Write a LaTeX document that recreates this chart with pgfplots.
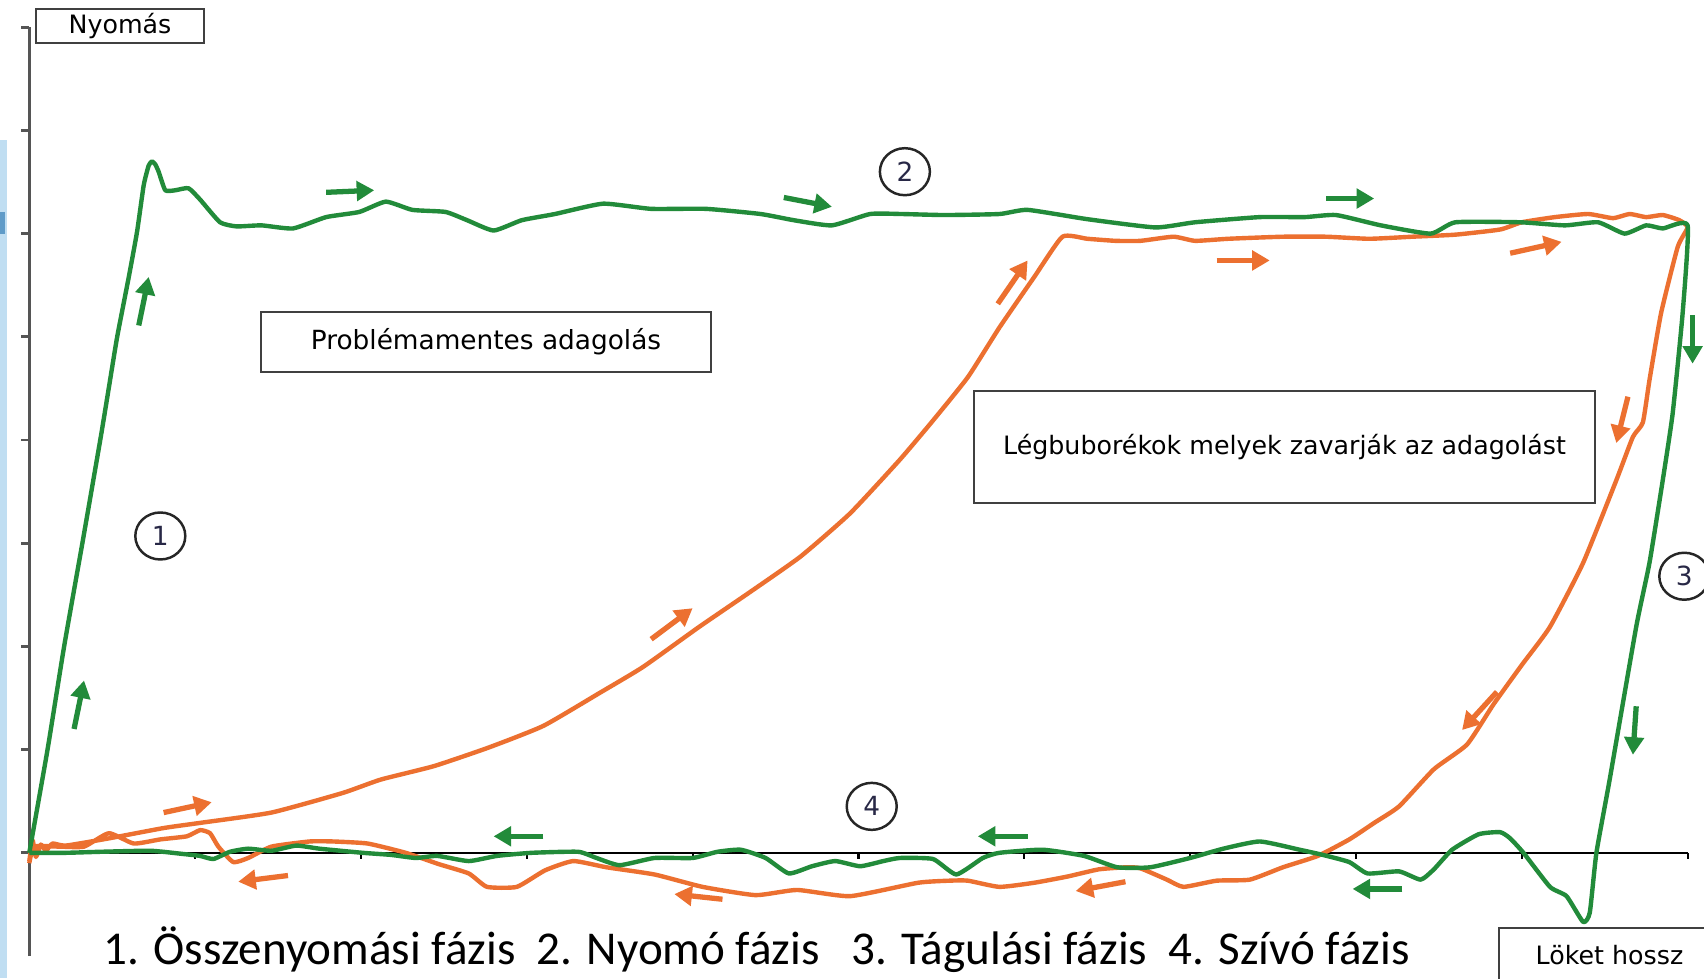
\documentclass[border=0pt]{standalone}
\usepackage{fontspec}
\setmainfont{Carlito}
\newfontfamily\boxfont{DejaVu Sans}
\usepackage{pgfplots}
\pgfplotsset{compat=1.18}
\usetikzlibrary{arrows.meta,shapes.geometric}
\definecolor{gr}{RGB}{34,139,58}
\definecolor{orn}{RGB}{236,112,48}
\definecolor{axg}{RGB}{85,85,85}
\definecolor{bxg}{RGB}{64,64,64}
\definecolor{lb}{RGB}{192,222,242}
\definecolor{db}{RGB}{95,155,200}
\definecolor{numc}{RGB}{40,40,70}
\begin{document}
\begin{tikzpicture}[arr/.style={line width=1.5pt,-{Triangle[length=5pt,width=5.5pt]}}]
\useasboundingbox (0,0) rectangle (17.04,9.78);
\fill[white] (0,0) rectangle (17.04,9.78);
\fill[lb] (0,0) rectangle (0.07,8.38);
\fill[db] (0,7.44) rectangle (0.05,7.66);
\begin{axis}[at={(0.293cm,0.22cm)}, anchor=south west, scale only axis,
  width=16.583cm, height=9.288cm, xmin=0, xmax=10, ymin=-1, ymax=8,
  hide axis, clip=false]
\draw[axg, line width=0.75pt] (axis cs:0,-1) -- (axis cs:0,8);
\draw[black, line width=0.6pt] (axis cs:-0.04,0) -- (axis cs:10,0);
\pgfplotsinvokeforeach{0,...,8}{\draw[axg,line width=0.75pt] (axis cs:0,#1) -- ([xshift=-0.08cm]axis cs:0,#1);}
\pgfplotsinvokeforeach{1,...,10}{\draw[black,line width=0.6pt] (axis cs:#1,0) -- ([yshift=-0.06cm]axis cs:#1,0);}
% air bubbles (orange)
\addplot[orn, line width=1.25pt, line join=round, smooth, tension=0.3] coordinates {
(0.00,-0.08) (0.02,0.12) (0.04,-0.04) (0.07,0.08) (0.10,0.02) (0.14,0.09) (0.22,0.07) (0.48,0.14) (0.81,0.24)
(1.03,0.29) (1.46,0.39) (1.89,0.58) (2.12,0.71) (2.44,0.84) (2.77,1.02) (3.10,1.23) (3.44,1.55)
(3.70,1.80) (4.04,2.19) (4.34,2.52) (4.65,2.87) (4.95,3.29) (5.25,3.81) (5.45,4.19) (5.66,4.61)
(5.85,5.09) (6.06,5.58) (6.23,5.97)
(6.38,5.95) (6.55,5.93) (6.70,5.93) (6.90,5.97) (7.03,5.93) (7.23,5.95) (7.56,5.97) (7.82,5.97)
(8.08,5.95) (8.34,5.97) (8.60,5.99) (8.87,6.04) (9.00,6.11) (9.20,6.16) (9.40,6.19) (9.55,6.15)
(9.65,6.19) (9.75,6.16) (9.85,6.18) (9.95,6.13) (10.00,6.06)
(9.94,5.87) (9.84,5.23) (9.77,4.58) (9.73,4.17) (9.67,4.03) (9.57,3.61) (9.37,2.81) (9.17,2.19)
(9.00,1.82) (8.83,1.44) (8.67,1.05) (8.47,0.81) (8.26,0.45) (8.11,0.29) (7.96,0.13) (7.77,-0.03)
(7.56,-0.14) (7.36,-0.26) (7.16,-0.27) (6.96,-0.33) (6.86,-0.26) (6.70,-0.15) (6.62,-0.14)
(6.45,-0.16) (6.26,-0.23) (6.06,-0.29) (5.85,-0.33) (5.66,-0.27) (5.55,-0.27) (5.36,-0.29)
(4.95,-0.42) (4.63,-0.36) (4.38,-0.41) (4.06,-0.33) (3.77,-0.21) (3.48,-0.14) (3.28,-0.08)
(3.11,-0.17) (2.94,-0.33) (2.76,-0.33) (2.65,-0.20) (2.47,-0.11) (2.27,0.00) (2.04,0.09)
(1.83,0.11) (1.69,0.11) (1.46,0.06) (1.32,-0.05) (1.23,-0.09) (1.14,0.06) (1.09,0.19) (1.03,0.22)
(0.95,0.16) (0.79,0.13) (0.63,0.09) (0.48,0.19) (0.33,0.06) (0.18,0.06) (0.03,0.06) (0.00,-0.10)
};
% problem-free (green)
\addplot[gr, line width=1.25pt, line join=round, smooth, tension=0.3] coordinates {
(0.00,0.00) (0.11,1.00) (0.21,2.00) (0.32,3.00) (0.43,4.02) (0.48,4.51) (0.53,5.00) (0.60,5.58)
(0.65,6.02) (0.69,6.47) (0.72,6.66) (0.74,6.70) (0.76,6.67) (0.78,6.60) (0.82,6.42) (0.88,6.42)
(0.96,6.44) (1.03,6.33) (1.15,6.11) (1.25,6.07) (1.40,6.08) (1.59,6.05) (1.79,6.16) (1.99,6.21)
(2.15,6.31) (2.31,6.23) (2.51,6.21) (2.64,6.13) (2.80,6.03) (2.97,6.13) (3.17,6.19) (3.46,6.29)
(3.75,6.24) (4.08,6.24) (4.41,6.19) (4.61,6.13) (4.84,6.08) (5.07,6.19) (5.26,6.19) (5.52,6.18)
(5.85,6.19) (6.02,6.23) (6.38,6.14) (6.79,6.06) (7.03,6.11) (7.42,6.16) (7.69,6.16) (7.88,6.18)
(8.15,6.08) (8.45,6.00) (8.60,6.11) (8.99,6.11) (9.26,6.08) (9.46,6.11) (9.62,6.00) (9.75,6.08)
(9.85,6.05) (10.00,6.08)
(9.97,5.23) (9.91,4.26) (9.85,3.61) (9.77,2.81) (9.69,2.19) (9.53,0.71) (9.45,0.00) (9.41,-0.58)
(9.37,-0.67) (9.27,-0.42) (9.17,-0.33) (9.01,0.00) (8.93,0.14) (8.87,0.20) (8.74,0.18) (8.58,0.03)
(8.47,-0.16) (8.39,-0.26) (8.26,-0.18) (8.07,-0.20) (7.96,-0.09) (7.80,-0.02) (7.66,0.03) (7.42,0.11)
(7.20,0.04) (7.00,-0.05) (6.76,-0.14) (6.56,-0.14) (6.36,-0.03) (6.11,0.03) (5.85,0.00) (5.75,-0.05)
(5.59,-0.21) (5.45,-0.06) (5.25,-0.05) (5.15,-0.08) (5.01,-0.13) (4.86,-0.08) (4.72,-0.13) (4.58,-0.20)
(4.44,-0.05) (4.29,0.03) (4.15,0.01) (4.00,-0.05) (3.77,-0.05) (3.56,-0.12) (3.42,-0.05) (3.31,0.01)
(3.03,0.00) (2.82,-0.03) (2.65,-0.08) (2.46,-0.03) (2.33,-0.05) (2.18,-0.02) (2.01,0.00) (1.75,0.04)
(1.61,0.07) (1.46,0.02) (1.32,0.04) (1.21,0.01) (1.11,-0.06) (1.03,-0.03) (0.92,-0.01) (0.73,0.02)
(0.43,0.01) (0.22,0.00) (0.00,0.00)
};
% green arrows
\draw[gr,arr] (axis cs:0.66,5.11) -- (axis cs:0.72,5.58);
\draw[gr,arr] (axis cs:0.27,1.20) -- (axis cs:0.33,1.67);
\draw[gr,arr] (axis cs:1.79,6.40) -- (axis cs:2.08,6.42);
\draw[gr,arr] (axis cs:4.55,6.35) -- (axis cs:4.84,6.26);
\draw[gr,arr] (axis cs:7.82,6.34) -- (axis cs:8.11,6.34);
\draw[gr,arr] (axis cs:10.03,5.21) -- (axis cs:10.03,4.74);
\draw[gr,arr] (axis cs:9.69,1.42) -- (axis cs:9.67,0.95);
\draw[gr,arr] (axis cs:3.10,0.16) -- (axis cs:2.80,0.16);
\draw[gr,arr] (axis cs:6.02,0.16) -- (axis cs:5.72,0.16);
\draw[gr,arr] (axis cs:8.28,-0.35) -- (axis cs:7.98,-0.35);
% orange arrows
\draw[orn,arr] (axis cs:0.81,0.39) -- (axis cs:1.10,0.49);
\draw[orn,arr] (axis cs:3.75,2.07) -- (axis cs:4.00,2.37);
\draw[orn,arr] (axis cs:5.84,5.32) -- (axis cs:6.02,5.74);
\draw[orn,arr] (axis cs:7.16,5.74) -- (axis cs:7.48,5.74);
\draw[orn,arr] (axis cs:8.93,5.81) -- (axis cs:9.24,5.92);
\draw[orn,arr] (axis cs:9.64,4.42) -- (axis cs:9.57,3.97);
\draw[orn,arr] (axis cs:8.85,1.56) -- (axis cs:8.64,1.19);
\draw[orn,arr] (axis cs:6.61,-0.28) -- (axis cs:6.31,-0.37);
\draw[orn,arr] (axis cs:4.18,-0.45) -- (axis cs:3.89,-0.40);
\draw[orn,arr] (axis cs:1.56,-0.22) -- (axis cs:1.26,-0.28);
% phase numbers
\tikzset{ph/.style={draw=black!85, ellipse, line width=0.7pt, minimum width=0.5cm, minimum height=0.47cm, inner sep=0pt, text=numc, font=\boxfont\fontsize{7.5}{8}\selectfont}}
\node[ph] at (axis cs:0.79,3.07) {1};
\node[ph] at (axis cs:5.28,6.60) {2};
\node[ph] at (axis cs:9.98,2.68) {3};
\node[ph] at (axis cs:5.08,0.45) {4};
\end{axis}
\tikzset{bx/.style={draw=bxg, line width=0.6pt, inner sep=0pt, fill=white, font=\boxfont\fontsize{7.2}{8}\selectfont}}
\node[bx, minimum width=1.68cm, minimum height=0.34cm] at (1.20,9.52) {Nyomás};
\node[bx, minimum width=4.50cm, minimum height=0.60cm, font=\boxfont\fontsize{7.5}{8}\selectfont] at (4.86,6.36) {Problémamentes adagolás};
\node[bx, minimum width=6.21cm, minimum height=1.12cm] at (12.845,5.31) {Légbuborékok melyek zavarják az adagolást};
\node[bx, minimum width=2.21cm, minimum height=0.55cm] at (16.095,0.225) {Löket hossz};
\node[anchor=base west, inner sep=0pt, font=\fontsize{13.4}{16}\selectfont] at (1.03,0.14)
  {1. Összenyomási fázis\ \ 2. Nyomó fázis\ \ \ 3. Tágulási fázis\ \ 4. Szívó fázis};
\end{tikzpicture}
\end{document}
